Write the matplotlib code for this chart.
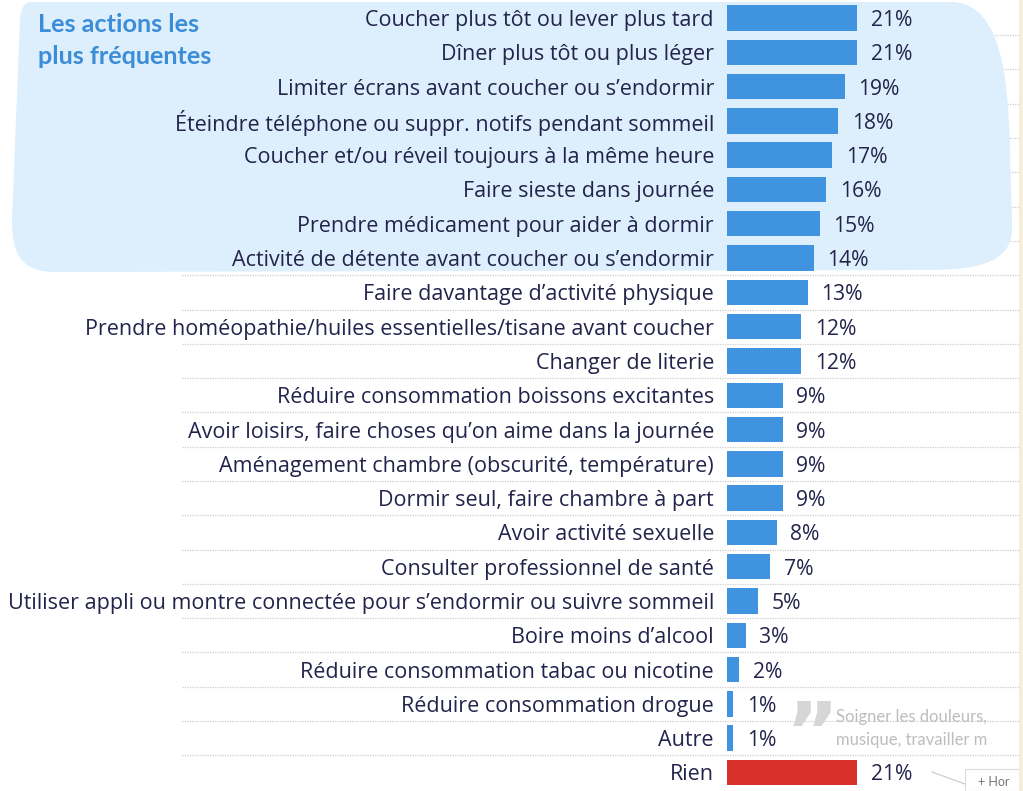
import matplotlib.pyplot as plt
from matplotlib.path import Path
from matplotlib.patches import PathPatch, Rectangle

# data
labels = [
    "Coucher plus tôt ou lever plus tard",
    "Dîner plus tôt ou plus léger",
    "Limiter écrans avant coucher ou s’endormir",
    "Éteindre téléphone ou suppr. notifs pendant sommeil",
    "Coucher et/ou réveil toujours à la même heure",
    "Faire sieste dans journée",
    "Prendre médicament pour aider à dormir",
    "Activité de détente avant coucher ou s’endormir",
    "Faire davantage d’activité physique",
    "Prendre homéopathie/huiles essentielles/tisane avant coucher",
    "Changer de literie",
    "Réduire consommation boissons excitantes",
    "Avoir loisirs, faire choses qu’on aime dans la journée",
    "Aménagement chambre (obscurité, température)",
    "Dormir seul, faire chambre à part",
    "Avoir activité sexuelle",
    "Consulter professionnel de santé",
    "Utiliser appli ou montre connectée pour s’endormir ou suivre sommeil",
    "Boire moins d’alcool",
    "Réduire consommation tabac ou nicotine",
    "Réduire consommation drogue",
    "Autre",
    "Rien",
]
values = [21, 21, 19, 18, 17, 16, 15, 14, 13, 12, 12, 9, 9, 9, 9, 8, 7, 5, 3, 2, 1, 1, 21]
highlight = "Rien"

W, H = 1023, 791
navy = "#23244b"
blue = "#3f93df"
red = "#d8302a"

fig = plt.figure(figsize=(W / 100, H / 100), dpi=100)
fig.patch.set_facecolor("white")
ax = fig.add_axes([0, 0, 1, 1])
ax.set_xlim(-117.4, 47.8)
ax.set_ylim(22.54, -0.525)
ax.axis("off")

# highlight blob behind the top rows (pixel coords, y down)
def px(x, y):
    return (x / W, 1 - y / H)

verts = [px(30, 2), px(950, 2), px(996, 2), px(1008, 60), px(1010, 150),
         px(1012, 225), px(1014, 262), px(980, 269), px(935, 270),
         px(55, 272), px(22, 272), px(12, 255), px(12, 220),
         px(20, 20), px(21, 8), px(25, 2), px(30, 2)]
codes = [Path.MOVETO, Path.LINETO, Path.CURVE4, Path.CURVE4, Path.CURVE4,
         Path.LINETO, Path.CURVE4, Path.CURVE4, Path.CURVE4,
         Path.LINETO, Path.CURVE4, Path.CURVE4, Path.CURVE4,
         Path.LINETO, Path.CURVE4, Path.CURVE4, Path.CURVE4]
ax.add_patch(PathPatch(Path(verts, codes), transform=fig.transFigure,
                       facecolor="#ddeefc", edgecolor="none", zorder=1, clip_on=False))

# dotted separators
n = len(labels)
seps = [i + 0.5 for i in range(n - 1)]
ax.hlines(seps, -88, 47.8, colors="#cfcfcf", linestyles=(0, (1, 1)), lw=0.9, zorder=0)

colors = [red if l == highlight else blue for l in labels]
ax.barh(range(n), values, height=0.74, color=colors, zorder=3)

for i, (lab, v) in enumerate(zip(labels, values)):
    ax.text(-2.1, i, lab, ha="right", va="center_baseline", fontsize=15.5,
            family="Open Sans", color=navy, zorder=4)
    ax.text(v + 2.2, i, f"{v}%", ha="left", va="center_baseline", fontsize=15.2,
            family="Open Sans", color=navy, zorder=4)

# handwritten-ish title
fig.text(38 / W, 1 - 24 / H, "Les actions les", fontsize=18.2, fontweight="bold",
         family="Lato", color="#3a8dd6", va="center", ha="left", zorder=5)
fig.text(38 / W, 1 - 57 / H, "plus fréquentes", fontsize=18.2, fontweight="bold",
         family="Lato", color="#3a8dd6", va="center", ha="left", zorder=5)

# clipped page elements on the right
fig.text(786 / W, 1 - 738 / H, "”", fontsize=58, fontweight="bold", family="DejaVu Sans",
         color="#d6d6d6", va="center", ha="left")
fig.text(836 / W, 1 - 717 / H, "Soigner les douleurs,", fontsize=12, family="Lato",
         color="#bdbdbd", va="center", ha="left")
fig.text(836 / W, 1 - 740 / H, "musique, travailler m", fontsize=12, family="Lato",
         color="#bdbdbd", va="center", ha="left")
fig.lines.append(plt.Line2D([932 / W, 965 / W], [1 - 772 / H, 1 - 784 / H],
                            transform=fig.transFigure, color="#c8c8c8", lw=0.8))
fig.patches.append(Rectangle((965 / W, 0), 60 / W, 22 / H, transform=fig.transFigure,
                             facecolor="white", edgecolor="#dddddd", lw=0.8))
fig.text(978 / W, 1 - 782 / H, "+ Hor", fontsize=9, family="Lato",
         color="#777777", va="center", ha="left")
fig.patches.append(Rectangle((1019 / W, 0), 4 / W, 1, transform=fig.transFigure,
                             facecolor="#f4eedb", edgecolor="none", zorder=6))

fig.savefig("out.png", dpi=100)
